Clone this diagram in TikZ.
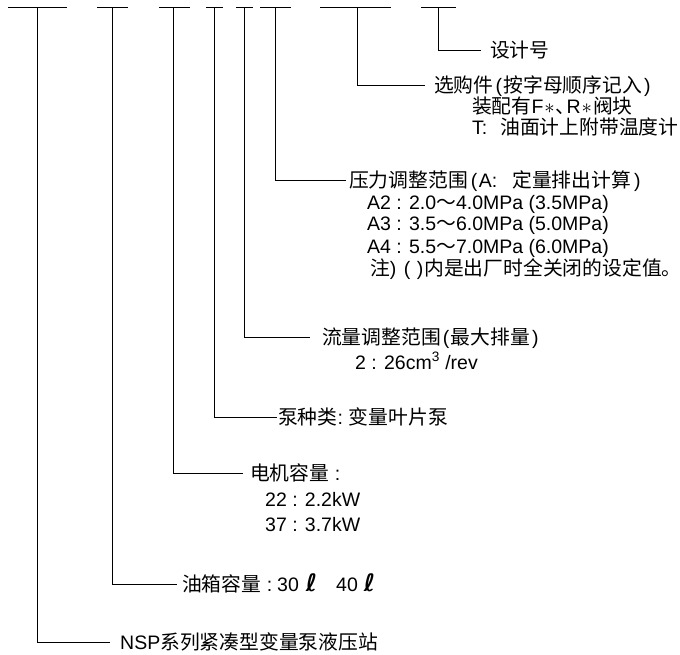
\documentclass[tikz,border=0pt]{standalone}
\usepackage{fontspec}
\setmainfont{Liberation Sans}
\newfontfamily\cjkf[Scale=1.015]{Noto Sans CJK SC}
\newfontfamily\dvf{DejaVu Sans}
\newcommand\zh[1]{{\cjkf #1}}
\newcommand\lp{\hspace{2pt}(\hspace{1.5pt}}
\newcommand\rp{\hspace{2pt})}
\newcommand\litre{{\dvf\bfseries\fontsize{24}{24}\selectfont ℓ}}
\begin{document}
\begin{tikzpicture}[x=1pt,y=-1pt,
  lbl/.style={anchor=base west,inner sep=0pt,text height=15pt,text depth=3pt,font=\fontsize{19.5}{23}\selectfont},
  ln/.style={line width=1pt,black}]
\useasboundingbox (0,0) rectangle (680,655);
% top segments
\foreach \n/\a/\b/\v in {1/8/67/37, 2/97/128/112, 3/159/190/173, 4/206/223/214, 5/236/253/244, 6/260/291/275, 7/320/391/357, 8/421/456/438}{
  \coordinate (L\n) at (\a,8);
  \coordinate (R\n) at (\b,8);
  \coordinate (V\n) at (\v,8);
}
% elbows (ends of connectors)
\coordinate (E8) at (481,51);
\coordinate (E7) at (425,86);
\coordinate (E6) at (346,181);
\coordinate (E5) at (310,337);
\coordinate (E4) at (277,417);
\coordinate (E3) at (243,473);
\coordinate (E2) at (177,584);
\coordinate (E1) at (110,642);
\foreach \n in {1,...,8}{
  \draw[ln] (L\n) -- (R\n);
  \draw[ln] (V\n) |- (E\n);
}
% texts
\node[lbl] (t8) at (490,58) {\zh{设计号}};
\node[lbl] (t7) at (434,93) {\zh{选购件}\lp\zh{按字母顺序记入}\rp};
\node[lbl] (t7b) at (472,114) {\zh{装配有}F\hspace{1pt}$\ast$\hspace{1pt}\zh{、}\hspace{-9pt}R\hspace{1pt}$\ast$\hspace{1pt}\zh{阀块}};
\node[lbl] (t7c) at (472,135) {T:\hspace{13pt}\zh{油面计上附带温度计}};
\node[lbl] (t6) at (349,188) {\zh{压力调整范围}\hspace{1pt}\lp A:\hspace{15pt}\zh{定量排出计算}\hspace{1pt}\rp};
\node[lbl] (t6b) at (367,210) {A2 : 2.0\zh{～}4.0MPa (3.5MPa)};
\node[lbl] (t6c) at (367,231) {A3 : 3.5\zh{～}6.0MPa (5.0MPa)};
\node[lbl] (t6d) at (367,253) {A4 : 5.5\zh{～}7.0MPa (6.0MPa)};
\node[lbl] (t6e) at (370,275) {\zh{注})\hspace{2pt} (\hspace{1pt} )\hspace{1pt}\zh{内是出厂时全关闭的设定值}\makebox[8pt][l]{\zh{。}}};
\node[lbl] (t5) at (322,344) {\zh{流量调整范围}\lp\zh{最大排量}\rp};
\node[lbl] (t5b) at (355,369) {2 : 26cm\textsuperscript{3} /rev};
\node[lbl] (t4) at (278,424) {\zh{泵种类}:\hspace{6pt}\zh{变量叶片泵}};
\node[lbl] (t3) at (250,480) {\zh{电机容量} :};
\node[lbl] (t3b) at (265,506) {22 : 2.2kW};
\node[lbl] (t3c) at (265,531) {37 : 3.7kW};
\node[lbl] (t2) at (182,591) {\zh{油箱容量} :\hspace{5pt}30\hspace{7pt}\litre\hspace{19pt}40\hspace{6pt}\litre};
\node[lbl] (t1) at (120,649) {NSP\zh{系列紧凑型变量泵液压站}};
\end{tikzpicture}
\end{document}
